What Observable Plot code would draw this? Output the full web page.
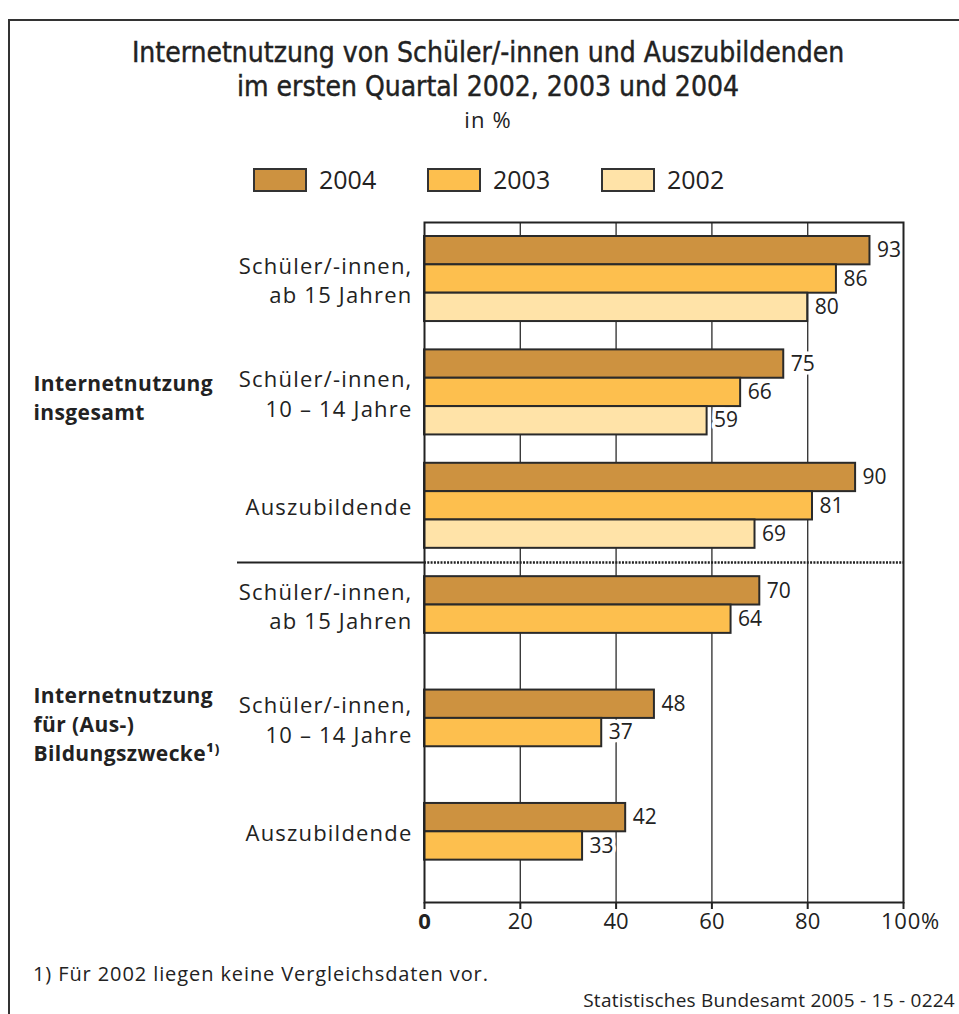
<!DOCTYPE html>
<html>
<head>
<meta charset="utf-8">
<script src="https://cdn.jsdelivr.net/npm/d3@7"></script>
<script src="https://cdn.jsdelivr.net/npm/@observablehq/plot@0.6"></script>
<style>
  html, body { margin: 0; padding: 0; background: #fff; }
  body { width: 959px; height: 1014px; overflow: hidden; position: relative; font-family: "Open Sans", sans-serif; color: #222; }
  #border { position: absolute; left: 8px; top: 19px; width: 1000px; height: 1100px; border: 2px solid #333; box-sizing: border-box; }
  .title { position: absolute; left: 0; width: 976px; text-align: center; font-family: "Liberation Sans Narrow", "DejaVu Sans Condensed", sans-serif; font-size: 28px; line-height: 34px; white-space: nowrap; -webkit-text-stroke: 0.4px #222; }
  .sub { position: absolute; left: 0; width: 976px; text-align: center; font-size: 22px; letter-spacing: 1.2px; line-height: 26px; top: 106px; }
  .legend-item { position: absolute; top: 168px; height: 24px; display: flex; align-items: center; }
  .sw { width: 54px; height: 24px; border: 2px solid #333; box-sizing: border-box; }
  .lab { position: absolute; font-size: 25px; line-height: 26px; top: 166px; }
  #chart { position: absolute; left: 0; top: 210px; }
  .foot { position: absolute; left: 33px; top: 962px; font-size: 20px; letter-spacing: 0.9px; line-height: 24px; }
  .src { position: absolute; right: 4px; top: 989px; font-size: 19px; letter-spacing: 0.25px; line-height: 22px; }
</style>
</head>
<body>
<div id="border"></div>
<div class="title" id="t1" style="top:36px"></div>
<div class="title" id="t2" style="top:70px"></div>
<div class="sub" id="sub"></div>
<div id="legend"></div>
<div id="chart"></div>
<div class="foot" id="foot"></div>
<div class="src" id="src"></div>
<script>
// ---- data ----
const titleLines = ["Internetnutzung von Schüler/-innen und Auszubildenden", "im ersten Quartal 2002, 2003 und 2004"];
const subtitle = "in %";
const categories = [
  "Schüler/-innen,\nab 15 Jahren",
  "Schüler/-innen,\n10 – 14 Jahre",
  "Auszubildende",
  "Schüler/-innen,\nab 15 Jahren",
  "Schüler/-innen,\n10 – 14 Jahre",
  "Auszubildende"
];
const sections = ["Internetnutzung\ninsgesamt", "Internetnutzung\nfür (Aus-)\nBildungszwecke¹⁾"];
const sectionGroups = [[0, 1, 2], [3, 4, 5]];
const years = ["2004", "2003", "2002"];
const values2004 = [93, 75, 90, 70, 48, 42];
const values2003 = [86, 66, 81, 64, 37, 33];
const values2002 = [80, 59, 69, null, null, null];
const colors = ["#CD9240", "#FDBF4E", "#FFE3A8"];
const xTicks = [0, 20, 40, 60, 80, 100];
const footnote = "1) Für 2002 liegen keine Vergleichsdaten vor.";
const source = "Statistisches Bundesamt 2005 - 15 - 0224";

// ---- header ----
document.getElementById("t1").textContent = titleLines[0];
document.getElementById("t2").textContent = titleLines[1];
document.getElementById("sub").textContent = subtitle;
document.getElementById("foot").textContent = footnote;
document.getElementById("src").textContent = source;
const legend = document.getElementById("legend");
years.forEach((yr, i) => {
  const sw = document.createElement("div");
  sw.className = "legend-item";
  sw.style.left = (253 + i * 174) + "px";
  sw.innerHTML = `<div class="sw" style="background:${colors[i]}"></div>`;
  legend.appendChild(sw);
  const lb = document.createElement("div");
  lb.className = "lab";
  lb.style.left = (319 + i * 174) + "px";
  lb.textContent = yr;
  legend.appendChild(lb);
});

// ---- table ----
const series = [values2004, values2003, values2002];
const slotsPerGroup = 4; // 3 bar slots + 1 gap slot
const bars = [];
categories.forEach((c, g) => {
  series.forEach((vals, k) => {
    if (vals[g] != null) bars.push({group: g, year: years[k], value: vals[g], slot: g * slotsPerGroup + k});
  });
});
const catLabels = categories.map((c, g) => {
  const s = bars.filter(b => b.group === g).map(b => b.slot + 0.5);
  return {label: c, pos: d3.mean(s)};
});
const secLabels = sections.map((s, i) => ({label: s, pos: d3.mean(sectionGroups[i], g => catLabels[g].pos)}));
// separator: middle of the gap slot between the two sections
const sepPos = [sectionGroups[0].length * slotsPerGroup - 0.5];
const nSlots = categories.length * slotsPerGroup - 1;

const chart = Plot.plot({
  width: 959,
  height: 742,
  marginLeft: 424,
  marginRight: 56,
  marginTop: 12,
  marginBottom: 50,
  style: {fontFamily: "Open Sans, sans-serif", color: "#222", background: "transparent"},
  x: {domain: [0, 100], axis: null},
  y: {domain: [0, nSlots], reverse: true, insetTop: 14, insetBottom: 14, axis: null},
  color: {domain: years, range: colors},
  marks: [
    Plot.ruleX(xTicks.filter(d => d > 0 && d < 100), {stroke: "#3a3a3a", strokeWidth: 1.4}),
    Plot.ruleY(sepPos, {stroke: "#222", strokeWidth: 2.5, strokeDasharray: "2,1.3"}),
    Plot.ruleY(sepPos, {x2: () => 0, stroke: "#222", strokeWidth: 2, insetLeft: -187}),
    Plot.rect(bars, {x1: () => 0, x2: "value", y1: "slot", y2: d => d.slot + 1, fill: "year", stroke: "#2a2a2a", strokeWidth: 2}),
    Plot.text(bars, {x: "value", y: d => d.slot + 0.5, text: d => String(d.value), textAnchor: "start", dx: 7, fontSize: 21, fill: "#222", stroke: "white", strokeWidth: 7}),
    Plot.text(catLabels, {y: "pos", text: "label", frameAnchor: "left", textAnchor: "end", dx: -12, fontSize: 22, lineHeight: 1.34, fill: "#222"}),
    Plot.text(secLabels, {y: "pos", text: "label", frameAnchor: "left", textAnchor: "start", dx: -391, dy: 4, fontSize: 21, fontWeight: "bold", lineHeight: 1.38, fill: "#222"}),
    Plot.axisX(xTicks, {tickSize: 7, tickFormat: () => "", label: null, stroke: "#222", strokeWidth: 2}),
    Plot.text(xTicks.filter(d => d > 0 && d < 100), {x: d => d, text: d => String(d), frameAnchor: "bottom", dy: 26, fontSize: 22, fill: "#222"}),
    Plot.text(xTicks.filter(d => d === 0), {x: d => d, text: d => String(d), frameAnchor: "bottom", dy: 26, fontSize: 22, fontWeight: "bold", fill: "#222"}),
    Plot.text(xTicks.filter(d => d === 100), {x: d => d, text: d => d + "%", frameAnchor: "bottom", dy: 26, dx: 7, fontSize: 22, fill: "#222"}),
    Plot.frame({stroke: "#222", strokeWidth: 2})
  ]
});
// widen the letter spacing of some label groups to match the original typeface's width
chart.querySelectorAll('g[aria-label="text"]').forEach(g => {
  const t = g.textContent;
  if (t.startsWith("Schüler")) g.style.letterSpacing = "1.2px";
  else if (t.startsWith("Internetnutzung")) g.style.letterSpacing = "0.4px";
  else if (t.includes("%")) g.style.letterSpacing = "0.8px";
});
document.getElementById("chart").appendChild(chart);
</script>
</body>
</html>
